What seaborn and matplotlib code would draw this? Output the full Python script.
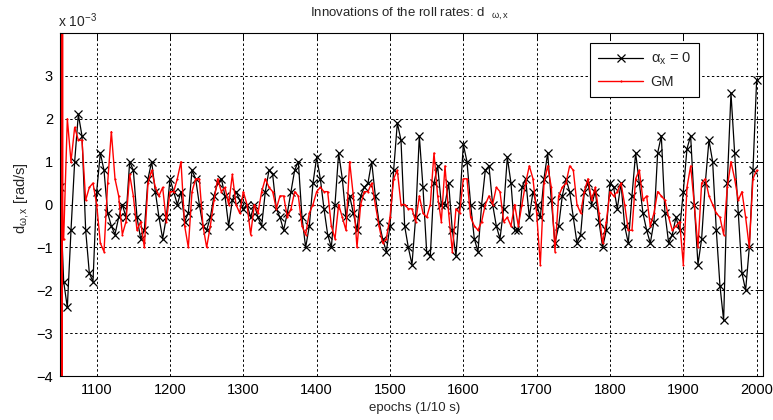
import numpy as np
import pandas as pd
import matplotlib
matplotlib.use("Agg")
import matplotlib.pyplot as plt
import seaborn as sns

# ---------------- data (units of 1e-3 rad/s) ----------------
alpha_start, step = 1050, 5
alpha0 = [
    0.4, -1.8, -2.4, -0.6, 1.0, 2.1, 1.6, -0.6, -1.6, -1.8, 0.3, 1.2, 0.8, -0.2, -0.5, -0.7,
    -0.3, 0.0, -0.3, 1.0, 0.8, -0.3, -0.8, -0.6, 0.6, 1.0, 0.3, -0.3, -0.8, -0.3, 0.6, 0.3,
    0.0, 0.3, -0.4, -0.2, 0.8, 0.6, 0.0, -0.5, -0.6, -0.3, 0.2, 0.5, 0.6, 0.2, -0.5,
    0.1, 0.3, 0.1, -0.1, 0.0, -0.3, 0.0, -0.3, -0.5, 0.3, 0.8, 0.7, -0.1, -0.3, -0.6, -0.2,
    0.3, 0.8, 1.0, -0.3, -1.0, -0.5, 0.5, 1.1, 0.6, -0.1, -0.7, -1.0, 0.0, 1.2, 0.6, -0.3,
    0.2, -0.2, -0.6, 0.2, 0.4, 0.5, 1.0, 0.2, -0.4, -0.8, -1.1, -0.5, 0.8, 1.9,
    1.5, -0.5, -1.0, -1.4, -0.3, 1.6, 0.4, -1.1, -1.2, 0.5, 0.9, 0.0, 0.0, 0.5, -0.6, -1.2,
    0.0, 1.4, 1.0, 0.0, -0.8, -1.1, 0.0, 0.8, 0.9, 0.0, -0.5, -0.8, -0.1, 1.1, 0.5, -0.6,
    -0.6, 0.4, 0.6, -0.3, 0.3, 0.0, -0.3, 0.6, 1.2, 0.1, -0.9, -0.5, 0.2, 0.6, 0.3, -0.3, -0.9,
    -0.7, 0.3, 0.5, 0.0, 0.3, -0.4, -1.0, -0.6, 0.5, 0.4, -0.1, 0.5, -0.5, -0.9, 0.2, 1.2,
    0.5, -0.2, -0.6, -0.9, -0.4, 1.2, 1.6, -0.2, -0.9, -0.7, -0.3, -0.6, 0.3, 1.3, 1.6, 0.0,
    -1.4, -0.8, 0.5, 1.5, 1.0, -0.6, -1.9, -2.7, 0.5, 2.6, 1.2, -0.2, -1.6, -2.0, -1.0, 0.8, 2.9,
]

# GM: initial transient (far off-scale) followed by the regular series
gm_head_epochs = [1050.8, 1051.4, 1052.0, 1052.6, 1053.2, 1053.8]
gm_head = [40.0, -40.0, 40.0, -40.0, 40.0, -0.8]
gm_start = 1055
gm = [
    -0.8, 2.0, 1.0, 1.8, 1.5, 1.5, 0.1, 0.4, 0.5, 0.0, -0.9, -1.1, 0.5, 1.7, 0.6, 0.2,
    -0.7, -0.4, 0.7, 0.2, -0.6, -0.4, -1.0, 0.5, 0.8, 0.4, 0.2, 0.4, -0.4, 0.3, 0.3, 0.6,
    1.0, -0.5, -1.0, 0.3, 0.6, 0.6, -0.5, -1.0, -0.5, 0.1, 0.6, 0.3, 0.4, 0.0,
    0.7, 0.0, -0.2, 0.3, 0.0, -0.7, 0.0, -0.2, 0.3, 0.6, 0.4, 0.3, -0.1, 0.2, 0.2, -0.3,
    -0.1, 0.3, 0.2, -0.5, -0.7, -0.2, 0.0, 0.3, 0.4, 0.3, 0.3, -0.5, -0.8, 0.0, -0.3, -0.6,
    1.0, 0.2, -1.0, 0.0, 0.3, 0.3, 0.5, 0.0, -0.5, -0.9, -0.8, -0.3, 0.6, 0.8,
    0.0, 0.0, -0.1, -0.1, -0.4, 0.2, -0.2, -0.3, 0.0, 1.2, 0.2, -0.4, 0.9, -0.2, -1.1, -0.1,
    -0.2, 0.6, 0.6, -0.3, -0.5, -0.6, -0.4, 0.0, 0.2, 0.0, 0.4, 0.3, -0.4, -0.3, -0.5, 0.0,
    -0.5, 0.0, 0.5, 0.9, 0.6, -0.2, -1.4, 0.5, 0.9, 0.4, -1.1, 0.2, 0.4, 0.5, 0.9, 0.8, 0.0,
    -0.2, 0.3, 0.6, 0.1, 0.4, -0.2, -0.9, -0.4, 0.3, 0.2, 0.3, 0.5, 0.0, -0.6, -0.6, 0.6,
    0.8, 0.1, 0.2, -0.5, -0.2, 0.3, 0.2, 0.1, -0.3, -0.6, -0.5, -0.4, -1.4, 0.4, 0.9, 0.0,
    -1.0, 0.5, 0.6, 0.2, 0.0, -0.2, -0.3, -0.7, 0.4, 1.0, 0.6, 0.1, 0.3, -0.3, -1.0, 0.6, 0.8,
]

x_ticks = list(range(1100, 2001, 100))
y_ticks = [-4, -3, -2, -1, 0, 1, 2, 3]

# ---------------- frames ----------------
df_a = pd.DataFrame({"epoch": alpha_start + step * np.arange(len(alpha0)), "val": alpha0})
df_g = pd.DataFrame({
    "epoch": [float(e) for e in gm_head_epochs]
             + [float(e) for e in gm_start + step * np.arange(len(gm))],
    "val": list(gm_head) + list(gm),
})

# ---------------- style ----------------
sns.set_style("white")
plt.rcParams["font.family"] = ["Liberation Sans", "DejaVu Sans"]
plt.rcParams["mathtext.fontset"] = "custom"
plt.rcParams["mathtext.rm"] = "Liberation Sans"
plt.rcParams["mathtext.it"] = "Liberation Sans"
plt.rcParams["mathtext.default"] = "regular"
plt.rcParams["path.simplify"] = False

W, H = 773, 420
fig = plt.figure(figsize=(W / 100, H / 100), dpi=100)
fig.patch.set_facecolor("white")
ax = fig.add_axes([60 / W, 1 - 376 / H, (762.5 - 60) / W, (376 - 33) / H])

sns.lineplot(data=df_a, x="epoch", y="val", ax=ax, color="black", linewidth=0.9,
             marker="x", markersize=5.5, markeredgewidth=0.9, markeredgecolor="black",
             estimator=None, sort=False, label="α$_x$ = 0")
sns.lineplot(data=df_g, x="epoch", y="val", ax=ax, color="#ff0000", linewidth=1.0,
             marker=".", markersize=2, markeredgewidth=0.5, markeredgecolor="#ff0000",
             estimator=None, sort=False, label="GM")

ax.set_xlim(1050, 2008)
ax.set_ylim(-4, 4)
ax.set_xticks(x_ticks)
ax.set_yticks(y_ticks)
ax.set_xlabel("")
ax.set_ylabel("")
ax.set_axisbelow(True)
ax.grid(True, color="black", linestyle=(0, (2.5, 2.5)), linewidth=0.7)
for s in ax.spines.values():
    s.set_color("black")
    s.set_linewidth(0.8)
ax.tick_params(direction="in", top=True, right=True, length=4, width=0.7,
               labelsize=10.5, colors="black", pad=5)

leg = ax.legend(loc="upper left", bbox_to_anchor=((590 - 60) / 702.5, (376 - 43) / 343),
                borderaxespad=0, fancybox=False, framealpha=1, edgecolor="black",
                fontsize=10.5, handlelength=3.1, labelspacing=0.55, borderpad=0.55,
                handletextpad=0.5)
leg.get_frame().set_linewidth(0.8)

fig.text(410 / W, 1 - 17 / H, "Innovations of the roll rates: d  $_{\\omega,x}$",
         ha="center", va="baseline", fontsize=9.5)
fig.text(58 / W, 1 - 27 / H, "x 10$^{-3}$", ha="left", va="baseline", fontsize=10)
fig.text(22 / W, 1 - 198 / H, "d$_{\\omega,x}$ [rad/s]", ha="center", va="center",
         rotation=90, fontsize=10.5)
fig.text(415 / W, 1 - 408 / H, "epochs (1/10 s)", ha="center", va="center", fontsize=9.5)

fig.savefig("out.png", dpi=100, facecolor="white")
